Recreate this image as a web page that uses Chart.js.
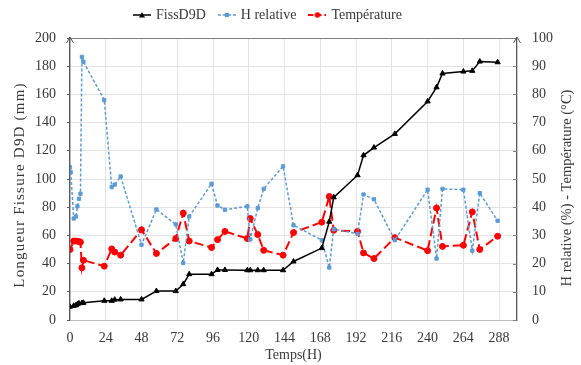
<!DOCTYPE html>
<html>
<head>
<meta charset="utf-8">
<script src="https://cdn.jsdelivr.net/npm/chart.js@4.4.0/dist/chart.umd.min.js"></script>
<style>
  html, body { margin: 0; padding: 0; background: #fff; }
</style>
</head>
<body>
<canvas id="graf" width="581" height="365"></canvas>
<script>
// temps de mesure (h)
var temps = [0, 0.5, 2.5, 4, 5, 6, 7, 8, 9, 23, 28, 30, 34, 48, 58, 71, 76, 80, 95, 99, 104,
  119, 121, 126, 130, 143, 150, 169, 174, 177, 193, 197, 204, 218, 240, 246, 250, 264, 270, 275, 287];

// longueur de fissure (mm) - axe gauche
var fissure = [9.4, null, 10.1, 10.4, 11.3, 11.8, null, 12, 12.2, 13.6, 13.6, 14.4, 14.6, 14.6, 20.5, 20.5, 25.4, 32.5, 32.5, 35.5, 35.5,
  35.3, 35.3, 35.3, 35.3, 35.3, 41.5, 51, 69.7, 87, 102.7, 116.8, 122.3, 132, 155, 165, 174.8, 176.2, 176.7, 183.3, 182.8];

// humidite relative (%) - axe droit
var humidite = [54.2, 52.4, 36, 36.7, 40.3, 43, 44.8, 93.3, 91.6, 78, 47.1, 48, 50.9, 26.7, 39.2, 33.9, 20.2, 36.7, 48.3, 40.6, 39.1,
  40.3, 28.6, 39.7, 46.5, 54.5, 33.6, 28.3, 18.6, 32.2, 30.6, 44.5, 42.8, 28.3, 46.2, 21.8, 46.5, 46.2, 24.6, 45, 35.2];

// temperature (°C) - axe droit
var temperature = [25, null, 28, 28, null, 27.8, 27.6, 18.5, 21.2, 19.1, 25.2, 24.1, 23, 32, 23.6, 28.9, 37.9, 28, 25.7, 28.5, 31.4,
  28.9, 36, 30.3, 24.7, 23, 31, 34.7, 43.8, 31.8, 31.4, 23.8, 21.8, 29.2, 24.6, 39.7, 26.1, 26.5, 38.3, 25, 29.7];

var graduationsTemps = [0, 24, 48, 72, 96, 120, 144, 168, 192, 216, 240, 264, 288];
var graduationsLongueur = [0, 20, 40, 60, 80, 100, 120, 140, 160, 180, 200];
var graduationsPourcent = [0, 10, 20, 30, 40, 50, 60, 70, 80, 90, 100];

var titreGauche = 'Longueur Fissure D9D (mm)';
var titreDroite = 'H relative (%) - Température (°C)';

var police = 'Liberation Serif';
var gris = '#383838';

function points(valeurs) {
  return temps.map(function (t, i) { return { x: t, y: valeurs[i] }; });
}

function enTicks(liste) {
  return liste.map(function (v) { return { value: v }; });
}

// petit dessin ligne + marqueur pour la legende
function symbole(couleur, tirets, forme, epaisseur) {
  var c = document.createElement('canvas');
  c.width = 18; c.height = 8;
  var g = c.getContext('2d');
  g.strokeStyle = couleur;
  g.fillStyle = couleur;
  g.lineWidth = epaisseur;
  g.setLineDash(tirets);
  g.beginPath(); g.moveTo(0, 4); g.lineTo(18, 4); g.stroke();
  g.setLineDash([]);
  g.beginPath();
  if (forme === 'triangle') {
    g.moveTo(9, 1); g.lineTo(12, 6.5); g.lineTo(6, 6.5); g.closePath();
  } else if (forme === 'carre') {
    g.rect(7, 2, 4, 4);
  } else {
    g.arc(9, 4, 2.8, 0, Math.PI * 2);
  }
  g.fill();
  return c;
}

var symboles = [
  symbole('#000000', [], 'triangle', 1.5),
  symbole('#5B9BD5', [3, 2], 'carre', 1.5),
  symbole('#FF0000', [5, 3], 'cercle', 2)
];

// titre vertical lu de bas en haut (des deux cotes, comme dans Excel)
function titreVertical(ctx, texte, x, y, taille, espacement) {
  ctx.save();
  ctx.translate(x, y);
  ctx.rotate(-Math.PI / 2);
  ctx.font = taille + 'px "' + police + '"';
  if ('letterSpacing' in ctx) ctx.letterSpacing = espacement + 'px';
  ctx.fillStyle = gris;
  ctx.textAlign = 'center';
  ctx.textBaseline = 'middle';
  ctx.fillText(texte, 0, 0);
  ctx.restore();
}

var cadre = {
  id: 'cadre',
  afterLayout: function (chart) {
    // legende decalee vers la gauche et vers le haut comme l'original
    chart.legend.left -= 22; chart.legend.right -= 22;
    chart.legend.top -= 6; chart.legend.bottom -= 6;
  },
  beforeDatasetsDraw: function (chart) {
    var a = chart.chartArea, ctx = chart.ctx;
    var y1 = chart.scales.y1;
    ctx.save();
    ctx.strokeStyle = '#7f7f7f';
    ctx.lineWidth = 1;
    ctx.beginPath(); ctx.moveTo(a.left, a.top + 0.5); ctx.lineTo(a.right, a.top + 0.5); ctx.stroke();
    // graduations interieures de l'axe droit
    y1.ticks.forEach(function (t) {
      var y = Math.round(y1.getPixelForValue(t.value)) + 0.5;
      ctx.beginPath(); ctx.moveTo(a.right - 4, y); ctx.lineTo(a.right, y); ctx.stroke();
    });
    // fleches en haut des axes
    ctx.strokeStyle = '#595959';
    [a.left, a.right].forEach(function (x) {
      ctx.beginPath();
      ctx.moveTo(x - 3.5, a.top + 5); ctx.lineTo(x, a.top - 1); ctx.lineTo(x + 3.5, a.top + 5);
      ctx.stroke();
    });
    ctx.restore();
  },
  afterDraw: function (chart) {
    var a = chart.chartArea, ctx = chart.ctx;
    var milieu = (a.top + a.bottom) / 2;
    titreVertical(ctx, titreGauche, chart.scales.y.left + 20, milieu + 6, 15, 1.2);
    titreVertical(ctx, titreDroite, chart.width - 14, milieu + 9, 14.5, 0);
  }
};

var ctx = document.getElementById('graf').getContext('2d');

new Chart(ctx, {
  type: 'line',
  data: {
    datasets: [{
      label: 'FissD9D',
      data: points(fissure),
      yAxisID: 'y',
      borderColor: '#000000',
      backgroundColor: '#000000',
      borderWidth: 1.5,
      pointStyle: 'triangle',
      pointRadius: 3,
      pointBorderWidth: 1
    }, {
      label: 'H relative',
      data: points(humidite),
      yAxisID: 'y1',
      borderColor: '#5B9BD5',
      backgroundColor: '#5B9BD5',
      borderWidth: 1.5,
      borderDash: [3, 2],
      pointStyle: 'rect',
      pointRadius: 2.3,
      pointBorderWidth: 1
    }, {
      label: 'Température',
      data: points(temperature),
      yAxisID: 'y1',
      borderColor: '#FF0000',
      backgroundColor: '#FF0000',
      borderWidth: 2,
      borderDash: [9, 4],
      pointStyle: 'circle',
      pointRadius: 3,
      pointBorderWidth: 1
    }]
  },
  options: {
    responsive: false,
    animation: false,
    spanGaps: true,
    layout: { padding: 0 },
    plugins: {
      tooltip: { enabled: false },
      legend: {
        position: 'top',
        labels: {
          usePointStyle: true,
          pointStyleWidth: 14,
          padding: 14,
          color: gris,
          font: { family: police, size: 14 },
          generateLabels: function (chart) {
            return chart.data.datasets.map(function (ds, i) {
              return { text: ds.label, pointStyle: symboles[i], datasetIndex: i, fontColor: gris, lineWidth: 0 };
            });
          }
        }
      }
    },
    scales: {
      x: {
        type: 'linear',
        min: 0,
        max: 300,
        afterBuildTicks: function (s) { s.ticks = enTicks(graduationsTemps); },
        afterFit: function (s) { s.height = 45; },
        grid: { color: '#e3e3e3', drawTicks: false },
        border: { color: '#bfbfbf' },
        ticks: { color: gris, padding: 10, maxRotation: 0, font: { family: police, size: 14 } },
        title: { display: true, text: 'Temps(H)', color: gris, padding: { top: 0, bottom: 1 }, font: { family: police, size: 14 } }
      },
      y: {
        position: 'left',
        min: 0,
        max: 200,
        afterBuildTicks: function (s) { s.ticks = enTicks(graduationsLongueur); },
        afterFit: function (s) { s.width = 70; },
        grid: { color: '#e3e3e3', tickColor: '#595959', tickLength: 3 },
        border: { color: '#595959', width: 1.3 },
        ticks: { color: gris, padding: 11, font: { family: police, size: 14 } },
        title: { display: false, text: titreGauche }
      },
      y1: {
        position: 'right',
        min: 0,
        max: 100,
        afterBuildTicks: function (s) { s.ticks = enTicks(graduationsPourcent); },
        afterFit: function (s) { s.width = 64; },
        grid: { drawOnChartArea: false, drawTicks: false },
        border: { color: '#595959', width: 1.3 },
        ticks: { color: gris, padding: 15, font: { family: police, size: 14 } },
        title: { display: false, text: titreDroite }
      }
    }
  },
  plugins: [cadre]
});
</script>
</body>
</html>
